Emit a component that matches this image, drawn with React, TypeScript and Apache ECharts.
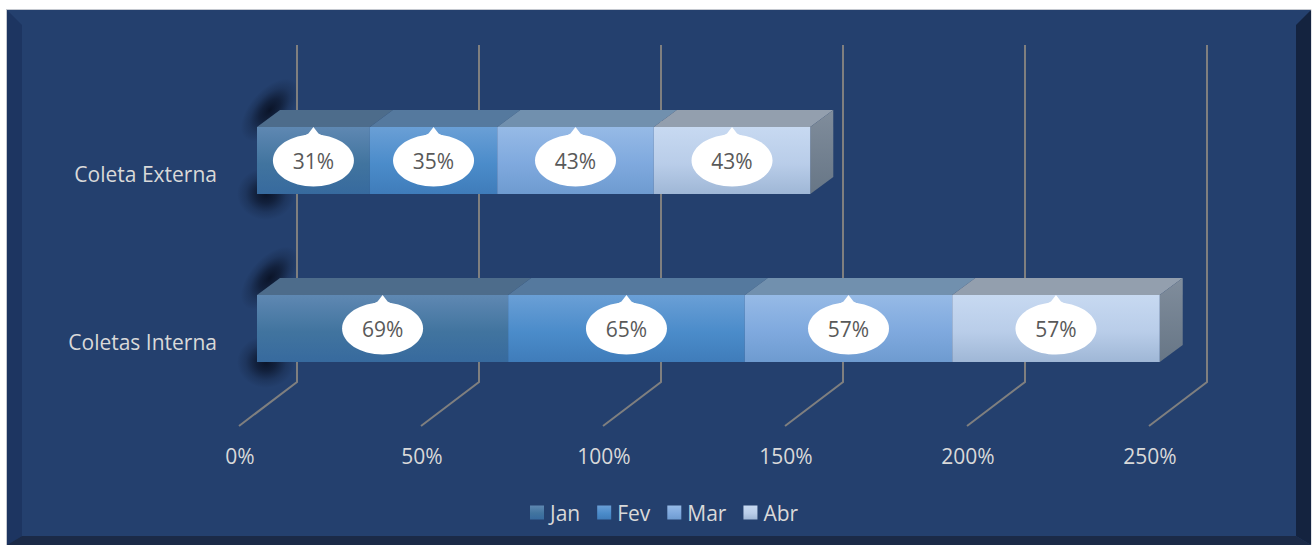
import React, { useEffect, useRef } from "react";
import * as echarts from "echarts";

const categories = ["Coletas Interna", "Coleta Externa"];
const months = ["Jan", "Fev", "Mar", "Abr"];
const jan = [69, 31];
const fev = [65, 35];
const mar = [57, 43];
const abr = [57, 43];
const tickValues = [0, 50, 100, 150, 200, 250];

const FONT = "'Open Sans', Lato, sans-serif";
const TEXT = "#d9d9d9";

const vgrad = (a: string, b: string, mid?: string) =>
  new echarts.graphic.LinearGradient(0, 0, 0, 1, mid
    ? [{ offset: 0, color: a }, { offset: 0.55, color: mid }, { offset: 1, color: b }]
    : [{ offset: 0, color: a }, { offset: 1, color: b }]);

const faces = [
  { front: () => vgrad("#5f88b2", "#376a9e", "#41749f"), top: "#4d6c8b" },
  { front: () => vgrad("#6a9fd6", "#3f7cba", "#4b8cca"), top: "#55799e" },
  { front: () => vgrad("#96bae6", "#6e9bd0", "#7fa9de"), top: "#7190ae" },
  { front: () => vgrad("#c7d9f1", "#9fb7d6", "#b9cde9"), top: "#939fae" },
];

const DX = 18;
const DY = -13.5;
const H = 67;
const DEPTH_X = 23;
const DEPTH_Y = 17;

const makeBarItem = (seriesIdx: number) => (params: any, api: any) => {
  const start = api.value(0);
  const end = api.value(1);
  const cat = api.value(2);
  const [x0, c] = api.coord([start, cat]);
  const [x1] = api.coord([end, cat]);
  const xa = x0 + DX;
  const xb = x1 + DX;
  const t = c + DY - H / 2;
  const b = t + H;
  const f = faces[seriesIdx];
  const mx = (xa + xb) / 2;
  const my = t + H / 2;
  const children: any[] = [
    {
      type: "polygon",
      shape: { points: [[xa, t], [xa + DEPTH_X, t - DEPTH_Y], [xb + DEPTH_X, t - DEPTH_Y], [xb, t]] },
      style: { fill: f.top },
    },
  ];
  if (seriesIdx === months.length - 1) {
    children.push({
      type: "polygon",
      shape: { points: [[xb, t], [xb + DEPTH_X, t - DEPTH_Y], [xb + DEPTH_X, b - DEPTH_Y], [xb, b]] },
      style: { fill: new echarts.graphic.LinearGradient(0, 0, 0, 1, [{ offset: 0, color: "#808d9c" }, { offset: 1, color: "#677686" }]) },
    });
  }
  children.push(
    { type: "rect", shape: { x: xa, y: t, width: xb - xa, height: H }, style: { fill: f.front() } },
    {
      type: "polygon",
      shape: { points: [[mx - 11, my - 24], [mx - 5, my - 27], [mx, my - 33.5], [mx + 5, my - 27], [mx + 11, my - 24]] },
      style: { fill: "#ffffff" },
    },
    {
      type: "ellipse",
      shape: { cx: mx, cy: my, rx: 40.5, ry: 26 },
      style: { fill: "#ffffff" },
    },
    {
      type: "text",
      x: mx,
      y: my,
      style: {
        text: `${end - start}%`,
        fill: "#595959",
        font: `21px ${FONT}`,
        textAlign: "center",
        textVerticalAlign: "middle",
      },
    }
  );
  return { type: "group", children };
};

const renderWall = (params: any, api: any) => {
  const [x] = api.coord([api.value(0), 0]);
  const grid = params.coordSys;
  const bottom = grid.y + grid.height;
  return {
    type: "polyline",
    shape: { points: [[x, bottom], [x + 58, bottom - 44], [x + 58, grid.y - 45]] },
    style: { stroke: "#7f7f7f", lineWidth: 2, fill: "none" },
  };
};

const blur = () =>
  new echarts.graphic.RadialGradient(0.5, 0.5, 0.5, [
    { offset: 0, color: "rgba(6,12,28,0.85)" },
    { offset: 0.35, color: "rgba(6,12,28,0.6)" },
    { offset: 0.7, color: "rgba(6,12,28,0.2)" },
    { offset: 1, color: "rgba(6,12,28,0)" },
  ]);

const renderShadow = (params: any, api: any) => {
  const [x0, c] = api.coord([0, api.value(0)]);
  const xa = x0 + DX;
  const t = c + DY - H / 2;
  const b = t + H;
  return {
    type: "group",
    children: [
      {
        type: "ellipse",
        x: xa + 13,
        y: t - 17,
        rotation: 0.85,
        shape: { cx: 0, cy: 0, rx: 38, ry: 20 },
        style: { fill: blur() },
      },
      {
        type: "ellipse",
        x: xa + 9,
        y: b,
        shape: { cx: 0, cy: 0, rx: 29, ry: 26 },
        style: { fill: blur() },
      },
    ],
  };
};

export default function App() {
  const ref = useRef<HTMLDivElement>(null);
  useEffect(() => {
    document.body.style.margin = "0";
    document.body.style.background = "#ffffff";
    const chart = echarts.init(ref.current!, undefined, { renderer: "svg" });
    const monthValues = [jan, fev, mar, abr];
    const barSeries = months.map((name, i) => ({
      type: "custom",
      name,
      coordinateSystem: "cartesian2d",
      renderItem: makeBarItem(i),
      clip: false,
      silent: true,
      itemStyle: { color: faces[i].front() },
      encode: { x: [0, 1], y: 2 },
      data: categories.map((_, ci) => {
        let s = 0;
        for (let k = 0; k < i; k++) s += monthValues[k][ci];
        return [s, s + monthValues[i][ci], ci];
      }),
    }));
    chart.setOption({
      animation: false,
      backgroundColor: "#ffffff",
      graphic: [
        { type: "rect", z: 0, shape: { x: 6.5, y: 9.5, width: 1304.5, height: 540 }, style: { fill: "#24406e", stroke: "#c4c8cf", lineWidth: 1 } },
        { type: "polygon", z: 0, shape: { points: [[7, 10], [22, 25], [22, 536], [7, 545]] }, style: { fill: "#1d3561" } },
        { type: "polygon", z: 0, shape: { points: [[1311, 10], [1296, 25], [1296, 536], [1311, 545]] }, style: { fill: "#14233f" } },
        { type: "polygon", z: 0, shape: { points: [[22, 536], [1296, 536], [1311, 545], [7, 545]] }, style: { fill: "#1b2a47" } },
      ],
      grid: { left: 239, top: 90, width: 910, height: 336, containLabel: false },
      xAxis: {
        type: "value",
        min: 0,
        max: 250,
        interval: 50,
        axisLine: { show: false },
        axisTick: { show: false },
        splitLine: { show: false },
        axisLabel: { formatter: "{value}%", color: TEXT, fontFamily: FONT, fontSize: 21, margin: 19, padding: [0, 0, 0, 2] },
      },
      yAxis: {
        type: "category",
        data: categories,
        axisLine: { show: false },
        axisTick: { show: false },
        axisLabel: { color: TEXT, fontFamily: FONT, fontSize: 21, margin: 22 },
      },
      legend: {
        data: months,
        left: 530,
        top: 502,
        padding: 0,
        itemWidth: 14,
        itemHeight: 14,
        itemGap: 17,
        icon: "rect",
        textStyle: { color: TEXT, fontFamily: FONT, fontSize: 21, padding: [0, 0, 0, 1] },
      },
      series: [
        {
          type: "custom",
          name: "shadow",
          coordinateSystem: "cartesian2d",
          renderItem: renderShadow,
          clip: false,
          silent: true,
          encode: { y: 0 },
          data: categories.map((_, ci) => [ci]),
        },
        {
          type: "custom",
          name: "walls",
          coordinateSystem: "cartesian2d",
          renderItem: renderWall,
          clip: false,
          silent: true,
          encode: { x: 0 },
          data: tickValues.map((v) => [v]),
        },
        ...barSeries,
      ],
    });
    return () => chart.dispose();
  }, []);
  return <div ref={ref} style={{ width: 1312, height: 545 }} />;
}
